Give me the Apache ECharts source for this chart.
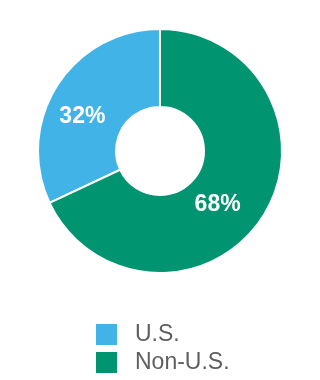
<!DOCTYPE html>
<html>
<head>
<meta charset="utf-8">
<script src="https://cdn.jsdelivr.net/npm/echarts@6/dist/echarts.min.js"></script>
<style>
  html, body { margin: 0; padding: 0; background: #fff; }
  #chart { width: 320px; height: 380px; }
</style>
</head>
<body>
<div id="chart"></div>
<script>
// 数据
const categories = ['U.S.', 'Non-U.S.']
const shares = [32, 68]
const colors = ['#41b3e6', '#009470']
// label nudges so the text sits where the original has it
const labelOffsets = [[-5, 12], [-15, 8]]

let myChart = echarts.init(document.getElementById('chart'))
myChart.setOption({
  animation: false,
  color: colors,
  legend: {
    orient: 'vertical',
    left: 96,
    top: 323,
    padding: 0,
    itemWidth: 21,
    itemHeight: 21,
    itemGap: 5,
    icon: 'rect',
    itemStyle: { borderWidth: 0 },
    textStyle: {
      fontFamily: 'Liberation Sans, Arial, sans-serif',
      fontSize: 23,
      color: '#5f5f5f',
      padding: [0, 0, 0, 13]
    },
    data: categories
  },
  series: [
    {
      type: 'pie',
      center: [160, 151],
      radius: [44, 122],
      clockwise: false,
      startAngle: 90,
      itemStyle: {
        borderColor: '#fff',
        borderWidth: 2
      },
      label: {
        show: true,
        position: 'inside',
        formatter: '{c}%',
        color: '#fff',
        fontSize: 23,
        fontWeight: 'bold',
        fontFamily: 'Liberation Sans, Arial, sans-serif'
      },
      labelLine: { show: false },
      emphasis: { disabled: true },
      data: categories.map((name, i) => ({
        name: name,
        value: shares[i],
        label: { offset: labelOffsets[i] }
      }))
    }
  ]
})
</script>
</body>
</html>
